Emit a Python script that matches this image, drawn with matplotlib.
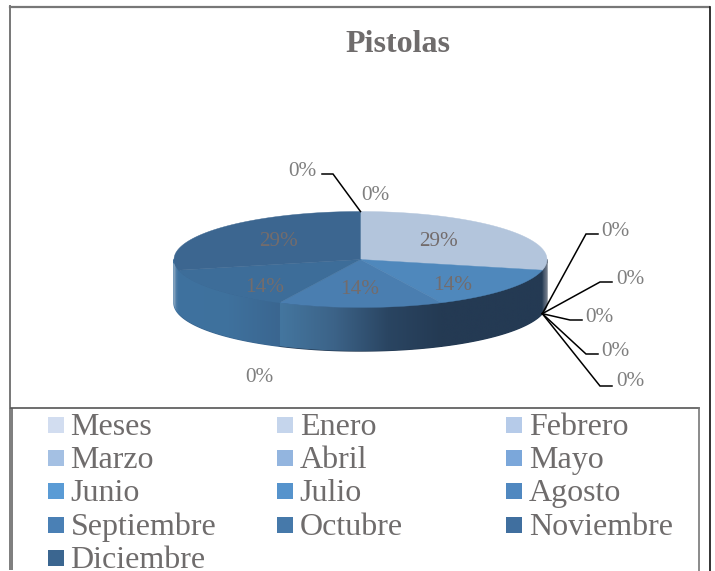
import matplotlib
matplotlib.use('Agg')
import matplotlib.pyplot as plt
import numpy as np
from matplotlib.colors import LinearSegmentedColormap
from matplotlib.patches import Polygon, Rectangle

plt.rcParams['font.family'] = ['Liberation Serif', 'DejaVu Serif']

months = ['Meses', 'Enero', 'Febrero', 'Marzo', 'Abril', 'Mayo', 'Junio', 'Julio',
          'Agosto', 'Septiembre', 'Octubre', 'Noviembre', 'Diciembre']
values = [0, 0, 2, 0, 0, 0, 0, 0, 1, 1, 0, 1, 2]
legend_colors = ['#d2ddf0', '#c5d5ec', '#b6cbe9', '#a4c0e3', '#93b5df', '#7ba7da',
                 '#5a9bd5', '#5693cc', '#5088c0', '#4a80b5', '#4679aa', '#406f9f', '#3b6690']

# top face colours of the slices that are not zero
top_colors = {'Febrero': '#b3c5dc', 'Agosto': '#4f88bc', 'Septiembre': '#4a7eb0',
              'Noviembre': '#3d6d99', 'Diciembre': '#3c6690'}
# side shading, left to right
side_colors = {'Febrero': ['#2a3f58', '#727c8a'],
               'Agosto': ['#243a53', '#243a53'],
               'Septiembre': ['#44769f', '#3c6388', '#2a4562', '#243a53'],
               'Noviembre': ['#3e729f', '#3f719d', '#3a6690'],
               'Diciembre': ['#8fa9c2', '#4a7aa5', '#3e729f']}

# label centres in pixels, same order as months
label_pos = [(302, 171), (375, 195), (439, 241), (615, 231), (630, 279), (599, 317),
             (615, 351), (630, 382), (453, 286), (360, 290), (259, 377), (265, 287), (279, 241)]
# leader lines: knee and end in pixels, only for labels that have one
leaders = {'Meses': [(333, 174), (322, 174)],
           'Marzo': [(586, 234), (598, 234)],
           'Abril': [(600, 282), (612, 282)],
           'Mayo': [(570, 320), (582, 320)],
           'Junio': [(586, 354), (598, 354)],
           'Julio': [(600, 386), (612, 386)]}

cx, cy, rx, ry, depth = 360.5, 259.5, 186.5, 48, 43.5


def rim(a):
    # a is degrees clockwise from twelve o'clock
    a = np.radians(a)
    return cx + rx * np.sin(a), cy - ry * np.cos(a)


fig = plt.figure(figsize=(7.15, 5.71), dpi=100)
ax = fig.add_axes([0, 0, 1, 1])
total = sum(values)
edges = np.concatenate([[0], np.cumsum(values) / total * 360])

# sides first, only the front half can be seen
for name, a0, a1 in zip(months, edges[:-1], edges[1:]):
    lo, hi = max(a0, 90), min(a1, 270)
    if a1 == a0 or hi <= lo:
        continue
    x, y = rim(np.linspace(lo, hi, 80))
    pts = np.r_[np.c_[x, y], np.c_[x[::-1], y[::-1] + depth]]
    # solid polygon under the gradient hides the seams between slices
    ax.add_patch(Polygon(pts, closed=True, fc=side_colors[name][-1], ec=side_colors[name][-1],
                         lw=1.0, zorder=1.5))
    poly = Polygon(pts, closed=True, fc='none', ec='none', transform=ax.transData)
    ax.add_patch(poly)
    cmap = LinearSegmentedColormap.from_list(name, side_colors[name])
    im = ax.imshow(np.linspace(0, 1, 256)[None, :], cmap=cmap, aspect='auto',
                   extent=(x.min(), x.max(), y.max() + depth, y.min()), zorder=2)
    im.set_clip_path(poly)

# top face
for name, a0, a1 in zip(months, edges[:-1], edges[1:]):
    if a1 == a0:
        continue
    x, y = rim(np.linspace(a0, a1, 120))
    ax.add_patch(Polygon(np.r_[[(cx, cy)], np.c_[x, y]], closed=True, fc=top_colors[name],
                         ec=top_colors[name], lw=0.3, zorder=3))

# labels and leaders
for i, name in enumerate(months):
    pct = f'{values[i] / total:.0%}'
    col = '#736c6c' if values[i] else '#7f7f7f'
    ax.text(label_pos[i][0], label_pos[i][1], pct, fontsize=15.3, color=col,
            ha='center', va='center', zorder=5)
    if name in leaders:
        x0, y0 = rim(edges[i + 1])
        if 90 < edges[i + 1] < 270:
            y0 += depth
        xs = [x0] + [p[0] for p in leaders[name]]
        ys = [y0] + [p[1] for p in leaders[name]]
        ax.plot(xs, ys, color='black', lw=1.1, zorder=4, solid_joinstyle='miter')

ax.text(398, 44, 'Pistolas', fontsize=23, fontweight='bold', color='#6f6c6c',
        ha='center', va='center')

# outer frame and legend box
ax.plot([10, 709], [6.5, 6.5], color='#777777', lw=1.6)
ax.plot([9.5, 9.5], [6, 408], color='#777777', lw=1.4)
ax.plot([709.5, 709.5], [7, 571], color='#111111', lw=1.2)
ax.plot([11, 699], [408, 408], color='#555555', lw=1.2)
ax.plot([699, 699], [408, 571], color='#777777', lw=1.2)
ax.add_patch(Rectangle((9, 408), 3.5, 162, fc='#808080', ec='none'))

# legend
for i, name in enumerate(months):
    col = i % 3
    row = i // 3
    sx = 48 + col * 229.2
    sy = 425 + row * 33.2
    ax.add_patch(Rectangle((sx, sy - 8), 16, 16, fc=legend_colors[i], ec='none'))
    ax.text(sx + 22.5, sy - 1, name, fontsize=23, color='#6f6c6c', ha='left', va='center_baseline')

ax.set_xlim(0, 715)
ax.set_ylim(571, 0)
ax.axis('off')
fig.savefig('out.png', dpi=100, facecolor='white')
plt.close(fig)
